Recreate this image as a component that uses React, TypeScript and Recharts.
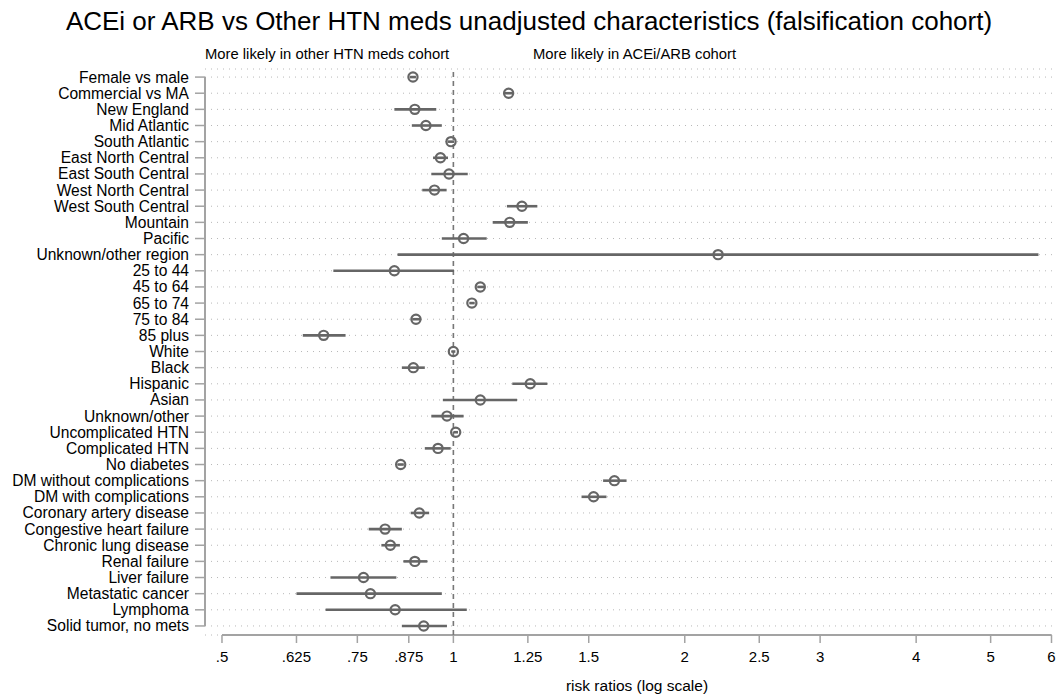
import React from "react";
import {
  ScatterChart,
  Scatter,
  XAxis,
  YAxis,
  CartesianGrid,
  ReferenceLine,
  ErrorBar,
} from "recharts";

const labels = [
  "Female vs male",
  "Commercial vs MA",
  "New England",
  "Mid Atlantic",
  "South Atlantic",
  "East North Central",
  "East South Central",
  "West North Central",
  "West South Central",
  "Mountain",
  "Pacific",
  "Unknown/other region",
  "25 to 44",
  "45 to 64",
  "65 to 74",
  "75 to 84",
  "85 plus",
  "White",
  "Black",
  "Hispanic",
  "Asian",
  "Unknown/other",
  "Uncomplicated HTN",
  "Complicated HTN",
  "No diabetes",
  "DM without complications",
  "DM with complications",
  "Coronary artery disease",
  "Congestive heart failure",
  "Chronic lung disease",
  "Renal failure",
  "Liver failure",
  "Metastatic cancer",
  "Lymphoma",
  "Solid tumor, no mets",
];

const rr = [
  0.886, 1.18, 0.891, 0.921, 0.993, 0.962, 0.987, 0.945, 1.228, 1.184, 1.031, 2.21,
  0.838, 1.084, 1.057, 0.894, 0.678, 1.0, 0.887, 1.259, 1.084, 0.981, 1.007, 0.955,
  0.854, 1.62, 1.522, 0.903, 0.815, 0.828, 0.891, 0.764, 0.78, 0.84, 0.915,
];

const lo = [
  0.878, 1.165, 0.838, 0.883, 0.983, 0.941, 0.936, 0.911, 1.174, 1.125, 0.966, 0.846,
  0.698, 1.074, 1.049, 0.884, 0.637, 0.994, 0.857, 1.193, 0.969, 0.936, 1.0, 0.918,
  0.846, 1.566, 1.468, 0.88, 0.776, 0.806, 0.861, 0.692, 0.625, 0.682, 0.857,
];

const hi = [
  0.894, 1.198, 0.95, 0.966, 1.002, 0.984, 1.044, 0.98, 1.286, 1.25, 1.105, 5.77,
  1.002, 1.096, 1.066, 0.905, 0.724, 1.006, 0.918, 1.325, 1.21, 1.031, 1.014, 0.992,
  0.862, 1.68, 1.582, 0.93, 0.857, 0.852, 0.925, 0.843, 0.966, 1.041, 0.981,
];

const xTicks = [0.5, 0.625, 0.75, 0.875, 1, 1.25, 1.5, 2, 2.5, 3, 4, 5, 6];

const X_MIN = 0.4752;
const X_MAX = 6.045;
const Y_MAX = 34.56;

const data = labels.map((name, i) => ({
  name,
  idx: i,
  rr: rr[i],
  err: [rr[i] - lo[i], hi[i] - rr[i]],
}));

const font = '"Liberation Sans", Arial, Helvetica, sans-serif';
const axisGray = "#a3a3a3";
const markGray = "#666666";

const Ring = (p: any) => (
  <circle cx={p.cx} cy={p.cy} r={4.6} fill="none" stroke={markGray} strokeWidth={2.2} />
);

const fmtX = (v: number) => String(v).replace(/^0\./, ".");

export default function App() {
  return (
    <div style={{ position: "absolute", left: 0, top: 0, width: 1058, height: 694, fontFamily: font, background: "#fff" }}>
      <div style={{ position: "absolute", left: 0, width: 1058, top: 6, textAlign: "center", fontSize: 26, color: "#000", whiteSpace: "nowrap" }}>
        ACEi or ARB vs Other HTN meds unadjusted characteristics (falsification cohort)
      </div>
      <div style={{ position: "absolute", left: 205, top: 46, fontSize: 14.8, color: "#000", whiteSpace: "nowrap" }}>
        More likely in other HTN meds cohort
      </div>
      <div style={{ position: "absolute", left: 533, top: 46, fontSize: 14.8, color: "#000", whiteSpace: "nowrap" }}>
        More likely in ACEi/ARB cohort
      </div>
      <div style={{ position: "absolute", left: 222, width: 830, top: 677, textAlign: "center", fontSize: 15.5, color: "#000" }}>
        risk ratios (log scale)
      </div>
      <ScatterChart width={1058} height={694} margin={{ top: 69, right: 4, bottom: 29, left: 0 }}>
        <CartesianGrid horizontal vertical={false} stroke="#b8b8b8" strokeDasharray="1 5" />
        <XAxis
          type="number"
          dataKey="rr"
          scale="log"
          domain={[X_MIN, X_MAX]}
          allowDataOverflow
          ticks={xTicks}
          interval={0}
          tickFormatter={fmtX}
          axisLine={false}
          tickLine={{ stroke: axisGray, strokeWidth: 1.5 }}
          tickSize={8}
          tickMargin={8}
          height={30}
          tick={{ fill: "#000", fontSize: 15, fontFamily: font }}
        />
        <YAxis
          type="number"
          dataKey="idx"
          domain={[-0.5, Y_MAX]}
          reversed
          allowDataOverflow
          ticks={labels.map((_, i) => i)}
          interval={0}
          tickFormatter={(v: number) => labels[v] ?? ""}
          axisLine={false}
          tickLine={{ stroke: axisGray, strokeWidth: 1.5 }}
          tickSize={10}
          tickMargin={6}
          width={205}
          tick={{ fill: "#000", fontSize: 15.6, fontFamily: font }}
        />
        <ReferenceLine
          segment={[{ x: X_MIN, y: 0 }, { x: X_MIN, y: labels.length - 1 }]}
          stroke={axisGray}
          strokeWidth={2}
          ifOverflow="visible"
        />
        <ReferenceLine
          segment={[{ x: 0.5, y: Y_MAX }, { x: 6, y: Y_MAX }]}
          stroke={axisGray}
          strokeWidth={2}
          ifOverflow="visible"
        />
        <ReferenceLine x={1} stroke="#777" strokeWidth={1.6} strokeDasharray="5 4" ifOverflow="visible" />
        <Scatter data={data} shape={Ring} isAnimationActive={false}>
          <ErrorBar dataKey="err" direction="x" width={0} stroke={markGray} strokeWidth={2.6} />
        </Scatter>
      </ScatterChart>
    </div>
  );
}
